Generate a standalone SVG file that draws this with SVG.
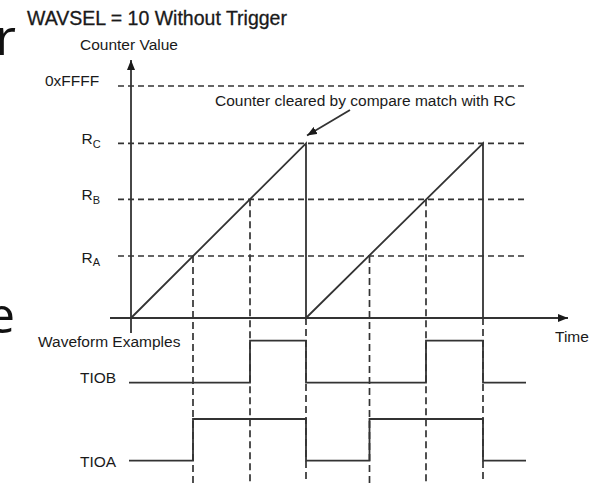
<svg xmlns="http://www.w3.org/2000/svg" width="604" height="483" viewBox="0 0 604 483">
<style>
  text { font-family: "Liberation Sans", Arial, sans-serif; fill: #1a1a1a; }
  .lbl { font-size: 15.5px; }
  .sub { font-size: 11px; }
  .big { font-family: "Open Sans", "Liberation Sans", sans-serif; font-size: 50px; fill: #111; }
  .solid { stroke: #333; stroke-width: 1.8; fill: none; }
  .dash { stroke: #333; stroke-width: 1.7; fill: none; stroke-dasharray: 6 4; }
  .vdash { stroke: #333; stroke-width: 1.7; fill: none; stroke-dasharray: 7 4; }
</style>
<defs>
  <marker id="ah" viewBox="0 0 10 8" refX="10" refY="4" markerWidth="10" markerHeight="8" markerUnits="userSpaceOnUse" orient="auto">
    <path d="M0,0 L10,4 L0,8 Z" fill="#1a1a1a"/>
  </marker>
</defs>
<rect width="604" height="483" fill="#fff"/>

<!-- cropped slide text on the left edge -->
<text class="big" x="16" y="55" text-anchor="end">r</text>
<text class="big" x="15" y="333" text-anchor="end">e</text>

<g id="title">
  <text x="27" y="25" font-size="19.5" stroke="#1a1a1a" stroke-width="0.3">WAVSEL = 10 Without Trigger</text>
</g>

<g id="axes">
  <text class="lbl" x="80" y="50">Counter Value</text>
  <line class="solid" x1="131" y1="333" x2="131" y2="60" marker-end="url(#ah)"/>
  <line class="solid" x1="110" y1="318" x2="568" y2="318" marker-end="url(#ah)"/>
  <text class="lbl" x="555" y="341.5">Time</text>
</g>

<g id="levels">
  <text class="lbl" x="45" y="86">0xFFFF</text>
  <line class="dash" x1="118" y1="86" x2="527" y2="86"/>
  <text class="lbl" x="81.5" y="144">R<tspan class="sub" dy="3.5">C</tspan></text>
  <line class="dash" x1="118" y1="143.3" x2="527" y2="143.3"/>
  <text class="lbl" x="81.5" y="200">R<tspan class="sub" dy="3.5">B</tspan></text>
  <line class="dash" x1="118" y1="199.3" x2="527" y2="199.3"/>
  <text class="lbl" x="81.5" y="262.5">R<tspan class="sub" dy="3.5">A</tspan></text>
  <line class="dash" x1="118" y1="256" x2="527" y2="256"/>
</g>

<g id="counter">
  <polyline class="solid" points="131,318 306,143.3 306,318 483,143.3 483,318"/>
</g>

<g id="annotation">
  <text class="lbl" x="215" y="106">Counter cleared by compare match with RC</text>
  <line class="solid" x1="350" y1="110" x2="307" y2="135.5" stroke-width="1.5" marker-end="url(#ah)"/>
</g>

<g id="connectors">
  <line class="vdash" x1="193" y1="256" x2="193" y2="483"/>
  <line class="vdash" x1="250" y1="199.3" x2="250" y2="483"/>
  <line class="vdash" x1="306" y1="318" x2="306" y2="483"/>
  <line class="vdash" x1="369.5" y1="256" x2="369.5" y2="483"/>
  <line class="vdash" x1="426" y1="199.3" x2="426" y2="483"/>
  <line class="vdash" x1="483" y1="318" x2="483" y2="483"/>
</g>

<g id="waveforms">
  <text class="lbl" x="38" y="347">Waveform Examples</text>
  <text class="lbl" x="80" y="383">TIOB</text>
  <polyline class="solid" points="129,382.7 250,382.7 250,340.7 306,340.7 306,382.7 426,382.7 426,340.7 483,340.7 483,382.7 526,382.7"/>
  <text class="lbl" x="80" y="466.5">TIOA</text>
  <polyline class="solid" points="129,460.7 193,460.7 193,419 306,419 306,460.7 369.5,460.7 369.5,419 483,419 483,460.7 526,460.7"/>
</g>
</svg>
